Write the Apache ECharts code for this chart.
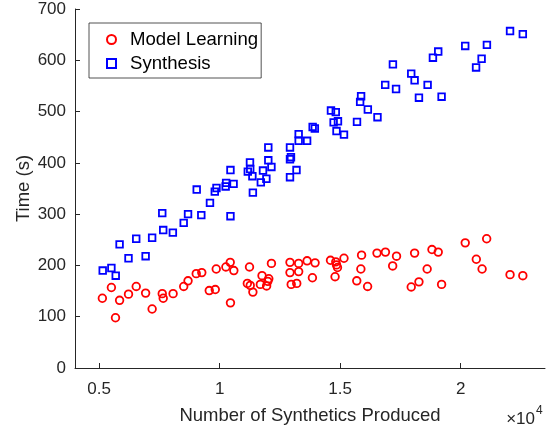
<!DOCTYPE html>
<html>
<head>
<meta charset="utf-8">
<script src="https://cdn.jsdelivr.net/npm/echarts@6/dist/echarts.min.js"></script>
<style>
  html, body { margin: 0; padding: 0; background: #fff; }
  #chart { width: 551px; height: 430px; }
</style>
</head>
<body>
<div id="chart"></div>
<script>
// Model Learning (red circles)
var mlX = [5135,5510,5680,5850,6220,6540,6930,7200,7620,7660,8070,8510,8690,9030,9260,9570,9820,9860,10260,10440,10590,10450,11240,11150,11270,11380,11760,11690,11950,12040,12000,12150,12920,12920,12970,13200,13280,13280,13630,13960,13850,14600,14820,14850,14890,14790,15160,15890,15860,15690,16140,16530,16880,17340,17180,18090,18810,19070,18610,18270,17950,19210,20190,21080,20650,20890,22050,22580];
var mlY = [136,157,98,132,144,159,146,115,145,136,145,159,170,184,186,151,153,193,197,206,190,127,197,165,161,148,180,163,160,174,169,204,206,186,163,165,204,188,209,205,176,210,207,201,196,178,214,220,193,170,159,224,226,218,199,224,231,226,193,168,158,163,244,252,212,193,182,180];

// Synthesis (blue squares)
var synX = [5150,5510,5690,5850,6220,6540,6930,7200,7620,7660,8060,8510,8690,9240,9600,9050,9800,9870,10250,10270,10580,10450,10450,11380,11260,11170,11270,11360,11710,11800,11940,12020,12020,12150,12920,12920,12960,13190,12920,13280,13280,13630,13860,13950,14620,14820,14730,14910,14850,15160,15700,15870,15830,16150,16550,17190,16870,17320,17950,18090,18630,18270,19210,18850,19070,20190,21090,20870,20640,22050,22580];
var synY = [190,195,180,241,214,252,218,254,302,269,264,283,300,298,322,348,344,351,354,361,359,296,386,342,401,383,388,374,362,385,369,430,405,392,430,407,411,386,372,456,443,443,470,467,502,499,479,481,462,455,480,530,519,504,489,592,552,544,574,561,552,527,529,605,617,628,630,603,586,657,651];

var xTicks = [5000, 10000, 15000, 20000];
var seriesNames = ["Model Learning", "Synthesis"];

function pairs(xs, ys) {
  return xs.map(function (x, i) { return [x, ys[i]]; });
}

var fontFamily = "'Liberation Sans', Arial, Helvetica, sans-serif";
var axisColor = "#262626";

var myChart = echarts.init(document.getElementById("chart"));

var option = {
  backgroundColor: "#fff",
  animation: false,
  grid: {
    left: 75,
    right: 6,
    top: 9,
    bottom: 61,
  },
  legend: {
    orient: "vertical",
    left: 89,
    top: 23,
    padding: [7, 3, 5, 17],
    itemGap: 5,
    itemWidth: 9,
    itemHeight: 9,
    backgroundColor: "#fff",
    borderColor: axisColor,
    borderWidth: 0.8,
    borderRadius: 0,
    textStyle: {
      fontFamily: fontFamily,
      fontSize: 18.6,
      lineHeight: 18,
      color: "#000",
      padding: [0, 0, 0, 9],
    },
    data: seriesNames,
  },
  xAxis: {
    type: "value",
    min: 4000,
    max: 23500,
    name: "Number of Synthetics Produced",
    nameLocation: "middle",
    nameGap: 38,
    nameMoveOverlap: false,
    nameTextStyle: {
      fontFamily: fontFamily,
      fontSize: 18.5,
      color: axisColor,
    },
    axisLine: { show: true, lineStyle: { color: axisColor, width: 1 } },
    axisTick: {
      show: true,
      inside: true,
      length: 5,
      customValues: xTicks,
      lineStyle: { color: axisColor },
    },
    axisLabel: {
      customValues: xTicks,
      margin: 13,
      fontFamily: fontFamily,
      fontSize: 17,
      color: axisColor,
      formatter: function (v) { return String(v / 10000); },
    },
    splitLine: { show: false },
  },
  yAxis: {
    type: "value",
    min: 0,
    max: 700,
    interval: 100,
    name: "Time (s)",
    nameLocation: "middle",
    nameGap: 42,
    nameMoveOverlap: false,
    nameTextStyle: {
      fontFamily: fontFamily,
      fontSize: 18.5,
      color: axisColor,
    },
    axisLine: { show: true, lineStyle: { color: axisColor, width: 1 } },
    axisTick: {
      show: true,
      inside: true,
      length: 5,
      lineStyle: { color: axisColor },
    },
    axisLabel: {
      margin: 9,
      fontFamily: fontFamily,
      fontSize: 17,
      color: axisColor,
    },
    splitLine: { show: false },
  },
  graphic: [
    {
      type: "text",
      right: 16,
      top: 411,
      style: {
        text: "×10",
        fontFamily: fontFamily,
        fontSize: 17,
        fill: axisColor,
      },
    },
    {
      type: "text",
      left: 536,
      top: 405,
      style: {
        text: "4",
        fontFamily: fontFamily,
        fontSize: 12,
        fill: axisColor,
      },
    },
  ],
  series: [
    {
      name: seriesNames[0],
      type: "scatter",
      symbol: "circle",
      symbolSize: 7.6,
      itemStyle: {
        color: "transparent",
        borderColor: "#ff0000",
        borderWidth: 1.8,
        opacity: 1,
      },
      data: pairs(mlX, mlY),
    },
    {
      name: seriesNames[1],
      type: "scatter",
      symbol: "rect",
      symbolSize: 6.6,
      itemStyle: {
        color: "transparent",
        borderColor: "#0000ff",
        borderWidth: 1.8,
        opacity: 1,
      },
      data: pairs(synX, synY),
    },
  ],
};

myChart.setOption(option);
</script>
</body>
</html>
